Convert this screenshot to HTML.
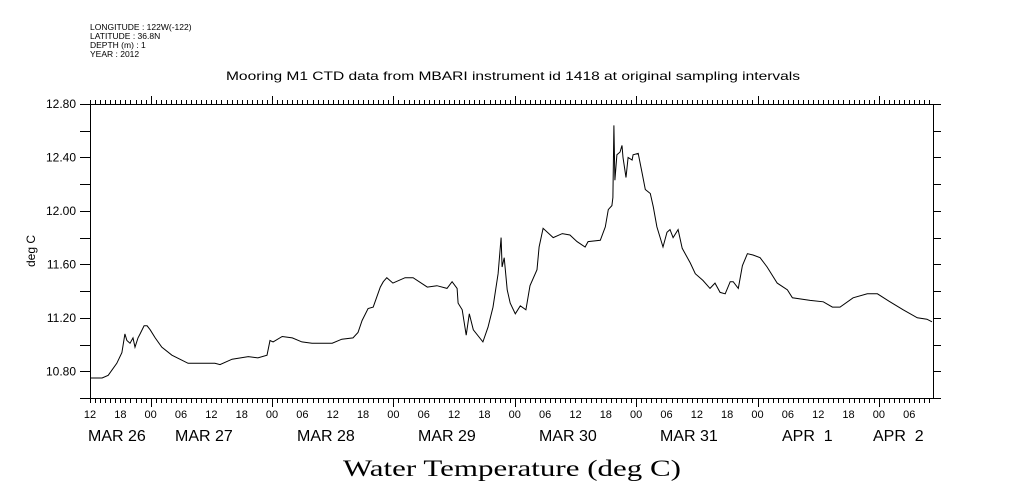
<!DOCTYPE html>
<html><head><meta charset="utf-8"><style>
html,body{margin:0;padding:0;background:#fff;}
svg{display:block;}
text{font-family:"Liberation Sans",sans-serif;fill:#000;}
</style></head><body>
<svg id="chart" width="1009" height="504" viewBox="0 0 1009 504">
<g>
<text x="90" y="30" font-size="8.5">LONGITUDE : 122W(-122)</text>
<text x="90" y="39" font-size="8.5">LATITUDE : 36.8N</text>
<text x="90" y="48" font-size="8.5">DEPTH (m) : 1</text>
<text x="90" y="57" font-size="8.5">YEAR : 2012</text>
</g>
<text x="513" y="80" font-size="12" text-anchor="middle" textLength="574" lengthAdjust="spacingAndGlyphs">Mooring M1 CTD data from MBARI instrument id 1418 at original sampling intervals</text>
<text x="0" y="0" font-size="12" text-anchor="middle" transform="translate(35,251) rotate(-90)">deg C</text>
<text x="512" y="476" font-size="23" text-anchor="middle" style="font-family:'Liberation Serif',serif" textLength="338" lengthAdjust="spacingAndGlyphs">Water Temperature (deg C)</text>
<g id="axes"></g>
<g id="series"></g>
</svg>
<script>
const hours=[0.2,2.4,3.6,5.3,6.3,6.9,7.3,7.9,8.5,8.9,9.5,9.9,10.7,11.3,11.9,12.9,14.2,16.2,19.4,22.2,24.7,25.7,28.1,31.3,33.2,35.0,35.6,36.2,38.0,40.0,41.9,43.9,47.9,49.8,52.0,53.0,53.8,55.0,56.0,57.4,58.0,58.7,59.9,62.3,63.9,66.7,68.6,70.6,71.6,72.6,72.8,73.6,74.4,75.0,75.8,77.7,78.7,79.7,80.7,81.3,81.5,81.9,82.5,83.1,84.1,85.1,86.2,87.0,88.4,88.8,89.6,91.6,93.4,94.9,96.3,97.9,98.5,100.9,101.9,102.5,103.2,103.4,103.6,103.8,104.2,104.8,105.2,105.4,106.0,106.4,107.2,107.4,108.4,109.2,109.8,110.8,111.4,112.1,113.3,114.1,114.7,115.3,116.3,117.1,118.7,119.7,121.2,122.6,123.6,124.6,125.6,126.6,127.2,128.2,129.0,130.0,131.1,132.5,133.9,135.9,137.9,138.9,142.4,145.0,146.8,148.3,150.9,153.7,155.7,158.2,160.8,163.6,165.5,166.5];
const temps=[10.75,10.75,10.77,10.86,10.94,11.08,11.03,11.01,11.05,10.98,11.05,11.08,11.14,11.14,11.11,11.05,10.98,10.92,10.86,10.86,10.86,10.85,10.89,10.91,10.90,10.92,11.03,11.02,11.06,11.05,11.02,11.01,11.01,11.04,11.05,11.09,11.18,11.27,11.28,11.43,11.47,11.50,11.46,11.50,11.50,11.43,11.44,11.42,11.47,11.42,11.31,11.26,11.07,11.23,11.11,11.02,11.13,11.28,11.53,11.80,11.58,11.65,11.41,11.31,11.23,11.29,11.26,11.44,11.56,11.73,11.87,11.80,11.83,11.82,11.77,11.73,11.77,11.78,11.88,12.01,12.04,12.10,12.64,12.23,12.42,12.44,12.49,12.40,12.25,12.40,12.38,12.42,12.43,12.28,12.16,12.13,12.03,11.88,11.73,11.84,11.86,11.80,11.86,11.72,11.61,11.53,11.48,11.42,11.46,11.39,11.38,11.47,11.47,11.42,11.59,11.68,11.67,11.65,11.58,11.46,11.41,11.35,11.33,11.32,11.28,11.28,11.35,11.38,11.38,11.32,11.26,11.20,11.19,11.17];
const yTickLabels=["12.80","12.40","12.00","11.60","11.20","10.80"];
const hourLabels=["12","18","00","06","12","18","00","06","12","18","00","06","12","18","00","06","12","18","00","06","12","18","00","06","12","18","00","06"];
const dateLabels=["MAR 26","MAR 27","MAR 28","MAR 29","MAR 30","MAR 31","APR  1","APR  2"];
const dateLabelX=[88,175,297,418,539,660,782,873];

const X0=90,X1=933,Y0=104,Y1=398,HMAX=166.7,VMIN=10.6,VMAX=12.8;
function xs(h){return X0+(X1-X0)*h/HMAX;}
function ys(v){return Y1-(Y1-Y0)*(v-VMIN)/(VMAX-VMIN);}
const NS="http://www.w3.org/2000/svg";
const axes=document.getElementById('axes');
function mk(tag,attrs,parent){const e=document.createElementNS(NS,tag);for(const k in attrs)e.setAttribute(k,attrs[k]);parent.appendChild(e);return e;}

const frame=mk('rect',{x:X0+0.5,y:Y0+0.5,width:X1-X0,height:Y1-Y0,fill:'none',stroke:'#000','stroke-width':1},axes);



let d='';
for(let h=0;h<=HMAX;h++){
  const x=Math.round(xs(h))+0.5;
  const major=((h+12)%24===0);
  const len=major?8:4;
  d+=`M${x},${Y0}v${-len}M${x},${Y1+1}v${len}`;
}
for(let i=0;i<=11;i++){
  const y=Math.round(ys(VMIN+0.2*i))+0.5;
  d+=`M${X0},${y}h-10M${X1},${y}h8`;
}
const ticks=mk('path',{d:d,stroke:'#000','stroke-width':1,fill:'none'},axes);



yTickLabels.forEach((t,i)=>{
  const v=parseFloat(t);
  const el=mk('text',{x:76,y:ys(v)+4,'font-size':12,'text-anchor':'end'},axes);
  el.textContent=t;
  
  
});
hourLabels.forEach((t,i)=>{
  const el=mk('text',{x:xs(i*6),y:418,'font-size':11,'text-anchor':'middle'},axes);
  el.textContent=t;
  
  
});
dateLabels.forEach((t,i)=>{
  const el=mk('text',{x:dateLabelX[i],y:441,'font-size':16},axes);
  el.setAttribute('style','white-space:pre');
  el.textContent=t;
  
  
});

const pts=hours.map((h,i)=>xs(h).toFixed(1)+','+ys(temps[i]).toFixed(1)).join(' ');
const line=mk('polyline',{points:pts,fill:'none',stroke:'#000','stroke-width':1},document.getElementById('series'));


</script>
</body></html>
